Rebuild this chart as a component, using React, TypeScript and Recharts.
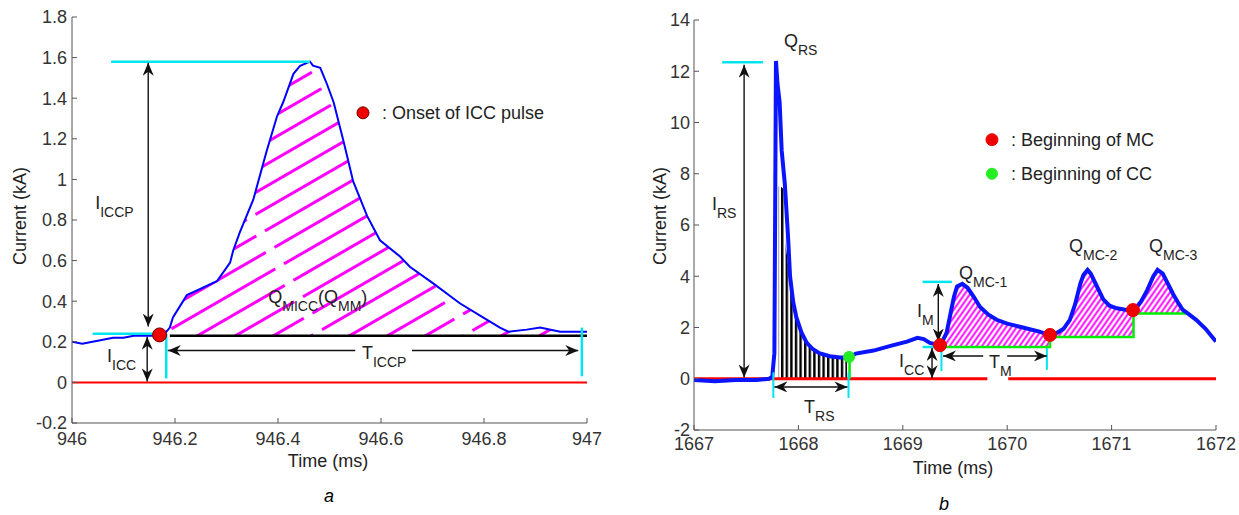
import React from "react";
import { Area, ComposedChart, Line, ReferenceDot, ReferenceLine, Scatter, XAxis, YAxis } from "recharts";

const FONT = '"Liberation Sans", Arial, Helvetica, sans-serif';
const TEXT = "#222";
const AXIS = "#555";
const CYAN = "#00e4f0";
const SUB_DY = 8;

// ---- panel a : ICC pulse ----
const aTicksX = [946, 946.2, 946.4, 946.6, 946.8, 947];
const aTickLabelsX = ["946", "946.2", "946.4", "946.6", "946.8", "947"];
const aTicksY = [-0.2, 0, 0.2, 0.4, 0.6, 0.8, 1, 1.2, 1.4, 1.6, 1.8];
const aTickLabelsY = ["-0.2", "0", "0.2", "0.4", "0.6", "0.8", "1", "1.2", "1.4", "1.6", "1.8"];

const aTime = [
  946.0, 946.02, 946.04, 946.06, 946.08, 946.1, 946.12, 946.14, 946.16, 946.18, 946.19, 946.196, 946.223,
  946.249, 946.282, 946.307, 946.313, 946.326, 946.352, 946.378, 946.398, 946.41, 946.43, 946.443, 946.462,
  946.468, 946.482, 946.495, 946.508, 946.527, 946.546, 946.573, 946.598, 946.637, 946.656, 946.7, 946.753,
  946.798, 946.831, 946.847, 946.883, 946.909, 946.948, 946.98, 947.0,
];
const aCurrent = [
  0.2, 0.19, 0.2, 0.21, 0.22, 0.22, 0.23, 0.23, 0.23, 0.24, 0.27, 0.32, 0.43,
  0.46, 0.5, 0.59, 0.65, 0.74, 0.9, 1.14, 1.31, 1.38, 1.52, 1.56, 1.58,
  1.56, 1.55, 1.47, 1.38, 1.19, 0.99, 0.82, 0.7, 0.62, 0.57, 0.49, 0.39,
  0.32, 0.27, 0.25, 0.26, 0.27, 0.25, 0.25, 0.25,
];
const aOnset = [{ t: 946.17, i: 0.234 }];
const aBase = 0.23;
const aPulseRange = [946.19, 946.985];

// ---- panel b : return stroke + M components ----
const bTicksX = [1667, 1668, 1669, 1670, 1671, 1672];
const bTickLabelsX = ["1667", "1668", "1669", "1670", "1671", "1672"];
const bTicksY = [-2, 0, 2, 4, 6, 8, 10, 12, 14];
const bTickLabelsY = ["-2", "0", "2", "4", "6", "8", "10", "12", "14"];

const bTime = [
  1667.0, 1667.2, 1667.4, 1667.6, 1667.72, 1667.75, 1667.77, 1667.785, 1667.8, 1667.82, 1667.84, 1667.87,
  1667.9, 1667.92, 1667.95, 1667.98, 1668.03, 1668.08, 1668.14, 1668.2, 1668.3, 1668.4, 1668.49, 1668.55,
  1668.72, 1668.9, 1669.04, 1669.14, 1669.2, 1669.26, 1669.36, 1669.42, 1669.45, 1669.49, 1669.52, 1669.57,
  1669.62, 1669.68, 1669.74, 1669.82, 1669.9, 1670.0, 1670.15, 1670.3, 1670.41, 1670.48, 1670.54, 1670.6,
  1670.65, 1670.7, 1670.73, 1670.77, 1670.8, 1670.86, 1670.92, 1670.98, 1671.05, 1671.12, 1671.21, 1671.28,
  1671.34, 1671.4, 1671.44, 1671.49, 1671.54, 1671.59, 1671.64, 1671.68, 1671.72, 1671.81, 1671.9, 1671.97,
  1672.0,
];
const bCurrent = [
  -0.05, -0.1, -0.05, -0.05, 0.0, 0.1, 1.0, 12.4, 11.5, 10.8, 8.9, 7.6,
  5.6, 4.0, 3.0, 2.4, 1.8, 1.4, 1.15, 1.0, 0.88, 0.83, 0.84, 0.98,
  1.1, 1.3, 1.45, 1.6, 1.55, 1.4, 1.3, 1.8, 2.4, 3.2, 3.6, 3.7,
  3.55, 3.2, 2.8, 2.5, 2.3, 2.15, 2.0, 1.85, 1.7, 1.8, 1.95, 2.3,
  2.9, 3.7, 4.05, 4.25, 4.1, 3.6, 3.1, 2.85, 2.75, 2.7, 2.65, 3.0,
  3.45, 4.0, 4.25, 4.1, 3.7, 3.3, 2.95, 2.7, 2.58, 2.3, 1.95, 1.6,
  1.45,
];
const rsTime = [1667.81, 1667.83, 1667.86, 1667.875, 1667.9, 1667.92, 1667.95, 1667.98, 1668.03, 1668.08, 1668.14, 1668.2, 1668.3, 1668.4, 1668.465];
const rsCurrent = [7.5, 7.5, 7.4, 5.3, 4.5, 3.8, 3.0, 2.4, 1.8, 1.4, 1.15, 1.0, 0.88, 0.83, 0.83];
const mcStarts = [{ t: 1669.356, i: 1.31 }, { t: 1670.41, i: 1.71 }, { t: 1671.205, i: 2.68 }];
const ccStarts = [{ t: 1668.485, i: 0.85 }];
const mcRanges = [[1669.356, 1670.41], [1670.41, 1671.21], [1671.21, 1671.72]];
const mcBases = [1.24, 1.63, 2.55];
const ccStepTime = [1669.356, 1670.41, 1670.41, 1671.21, 1671.21, 1671.72];
const ccStepCurrent = [1.24, 1.24, 1.63, 1.63, 2.55, 2.55];

const aData = aTime.map((t, k) => ({ t, i: aCurrent[k] }));
const aHatch = aData
  .filter((d) => d.t >= aPulseRange[0] && d.t <= aPulseRange[1])
  .map((d) => ({ t: d.t, band: [aBase, Math.max(aBase, d.i)] }));

const bData = bTime.map((t, k) => ({ t, i: bCurrent[k] }));
const rsData = rsTime.map((t, k) => ({ t, band: [0, rsCurrent[k]] }));
const mcHatch = mcRanges.map(([lo, hi], k) =>
  bData.filter((d) => d.t >= lo && d.t <= hi).map((d) => ({ t: d.t, band: [mcBases[k], Math.max(mcBases[k], d.i)] }))
);
const ccStep = ccStepTime.map((t, k) => ({ t, i: ccStepCurrent[k] }));

type Part = [string, string];

function SubText({ x, y, parts, anchor = "start" }: { x: number; y: number; parts: Part[]; anchor?: string }) {
  const kids: React.ReactNode[] = [];
  let low = false;
  parts.forEach(([m, s], k) => {
    if (m) {
      kids.push(<tspan key={"m" + k} dy={low ? -SUB_DY : 0} fontSize={18}>{m}</tspan>);
      low = false;
    }
    if (s) {
      kids.push(<tspan key={"s" + k} dy={low ? 0 : SUB_DY} fontSize={14}>{s}</tspan>);
      low = true;
    }
  });
  return (
    <text x={x} y={y} fill={TEXT} textAnchor={anchor} style={{ fontFamily: FONT }}>
      {kids}
    </text>
  );
}

const note = (parts: Part[]) => (p: any) => <SubText x={p.cx} y={p.cy} parts={parts} />;

const legendItem = (label: string, fill: string, r: number, outline?: string) => (p: any) => (
  <g>
    <circle cx={p.cx} cy={p.cy} r={r} fill={fill} stroke={outline || fill} strokeWidth={1} />
    <text x={p.cx + 19} y={p.cy + 6} fontSize={18} fill={TEXT} style={{ fontFamily: FONT }}>
      {label}
    </text>
  </g>
);

const arrow = (id: string, both: boolean) => (p: any) => (
  <line
    x1={p.x1}
    y1={p.y1}
    x2={p.x2}
    y2={p.y2}
    stroke="#111"
    strokeWidth={1.4}
    markerEnd={`url(#${id})`}
    markerStart={both ? `url(#${id})` : undefined}
  />
);

const dot = (fill: string, r: number, outline?: string) => (p: any) => (
  <circle cx={p.cx} cy={p.cy} r={r} fill={fill} stroke={outline || fill} strokeWidth={1} />
);

const fmt = (ticks: number[], labels: string[]) => (v: number) => {
  const k = ticks.findIndex((t) => Math.abs(t - v) < 1e-9);
  return k >= 0 ? labels[k] : String(v);
};

const tickStyle = { fill: "#333", fontSize: 18, fontFamily: FONT };

function ArrowDefs({ id }: { id: string }) {
  return (
    <marker id={id} viewBox="0 0 13 11" refX={13} refY={5.5} markerWidth={13} markerHeight={11} markerUnits="userSpaceOnUse" orient="auto-start-reverse">
      <path d="M0,0 L13,5.5 L0,11 L4,5.5 Z" fill="#111" />
    </marker>
  );
}

function PanelA() {
  const seg = (x1: number, y1: number, x2: number, y2: number) => [{ x: x1, y: y1 }, { x: x2, y: y2 }];
  return (
    <ComposedChart width={620} height={515} margin={{ top: 17, right: 33, bottom: 62, left: 0 }} style={{ fontFamily: FONT }}>
      <defs>
        <ArrowDefs id="arrA" />
        <pattern id="hatchA" patternUnits="userSpaceOnUse" width={130} height={19} patternTransform="rotate(-30)">
          <line x1={0} y1={9.5} x2={130} y2={9.5} stroke="#ff00ff" strokeWidth={3} strokeDasharray="104 10" />
        </pattern>
      </defs>
      <XAxis
        dataKey="t"
        type="number"
        domain={[946, 947]}
        ticks={aTicksX}
        interval={0}
        allowDataOverflow
        tickFormatter={fmt(aTicksX, aTickLabelsX)}
        tick={tickStyle}
        tickSize={-5}
        tickMargin={14}
        height={30}
        stroke={AXIS}
      />
      <XAxis xAxisId="top" orientation="top" type="number" domain={[946, 947]} ticks={aTicksX} tick={false} tickSize={-5} height={0} stroke={AXIS} />
      <YAxis
        type="number"
        domain={[-0.2, 1.8]}
        ticks={aTicksY}
        interval={0}
        allowDataOverflow
        tickFormatter={fmt(aTicksY, aTickLabelsY)}
        tick={tickStyle}
        tickSize={-5}
        tickMargin={10}
        width={72}
        stroke={AXIS}
      />
      <YAxis yAxisId="right" orientation="right" type="number" domain={[-0.2, 1.8]} ticks={aTicksY} tick={false} tickSize={-5} width={0} stroke={AXIS} />

      <ReferenceLine y={0} stroke="#ff0000" strokeWidth={2} />
      <Area data={aHatch} dataKey="band" type="linear" fill="url(#hatchA)" stroke="none" fillOpacity={1} isAnimationActive={false} />
      <ReferenceLine segment={seg(946.19, aBase, 947, aBase)} stroke="#000" strokeWidth={2.5} ifOverflow="visible" />
      <Line data={aData} dataKey="i" type="linear" dot={false} stroke="#0000ff" strokeWidth={2} isAnimationActive={false} />

      <ReferenceLine segment={seg(946.076, 1.58, 946.462, 1.58)} stroke={CYAN} strokeWidth={2.5} />
      <ReferenceLine segment={seg(946.04, 0.24, 946.17, 0.24)} stroke={CYAN} strokeWidth={2.5} />
      <ReferenceLine segment={seg(946.183, 0.24, 946.183, 0.02)} stroke={CYAN} strokeWidth={2.5} />
      <ReferenceLine segment={seg(946.99, 0.27, 946.99, 0.03)} stroke={CYAN} strokeWidth={2.5} />

      <ReferenceLine segment={seg(946.148, 0.275, 946.148, 1.575)} shape={arrow("arrA", true)} />
      <ReferenceLine segment={seg(946.146, 0.005, 946.146, 0.225)} shape={arrow("arrA", true)} />
      <ReferenceLine segment={seg(946.55, 0.157, 946.186, 0.157)} shape={arrow("arrA", false)} />
      <ReferenceLine segment={seg(946.66, 0.157, 946.983, 0.157)} shape={arrow("arrA", false)} />

      <Scatter data={aOnset} dataKey="i" shape={dot("#ee0000", 7, "#700000")} isAnimationActive={false} />

      <ReferenceDot x={946.045} y={0.855} shape={note([["I", "ICCP"]])} />
      <ReferenceDot x={946.381} y={0.392} shape={note([["Q", "MICC"], ["(Q", "MM"], [")", ""]])} />
      <ReferenceDot x={946.068} y={0.101} shape={note([["I", "ICC"]])} />
      <ReferenceDot x={946.563} y={0.116} shape={note([["T", "ICCP"]])} />
      <ReferenceDot x={946.565} y={1.328} shape={legendItem(": Onset of ICC pulse", "#ee0000", 6, "#700000")} />
    </ComposedChart>
  );
}

function PanelB() {
  const seg = (x1: number, y1: number, x2: number, y2: number) => [{ x: x1, y: y1 }, { x: x2, y: y2 }];
  return (
    <ComposedChart width={619} height={515} margin={{ top: 20, right: 23, bottom: 55, left: 0 }} style={{ fontFamily: FONT }}>
      <defs>
        <ArrowDefs id="arrB" />
        <pattern id="hatchB" patternUnits="userSpaceOnUse" width={10} height={4.4} patternTransform="rotate(-55)">
          <line x1={0} y1={2.2} x2={10} y2={2.2} stroke="#ff00ff" strokeWidth={1.9} />
        </pattern>
        <pattern id="stripesB" patternUnits="userSpaceOnUse" width={4.6} height={10}>
          <rect x={0} y={0} width={2.4} height={10} fill="#000" />
        </pattern>
      </defs>
      <XAxis
        dataKey="t"
        type="number"
        domain={[1667, 1672]}
        ticks={bTicksX}
        interval={0}
        allowDataOverflow
        tickFormatter={fmt(bTicksX, bTickLabelsX)}
        tick={tickStyle}
        tickSize={-5}
        tickMargin={12}
        height={30}
        stroke={AXIS}
      />
      <XAxis xAxisId="top" orientation="top" type="number" domain={[1667, 1672]} ticks={bTicksX} tick={false} tickSize={-5} height={0} stroke={AXIS} />
      <YAxis
        type="number"
        domain={[-2, 14]}
        ticks={bTicksY}
        interval={0}
        allowDataOverflow
        tickFormatter={fmt(bTicksY, bTickLabelsY)}
        tick={tickStyle}
        tickSize={-5}
        tickMargin={9}
        width={74}
        stroke={AXIS}
      />
      <YAxis yAxisId="right" orientation="right" type="number" domain={[-2, 14]} ticks={bTicksY} tick={false} tickSize={-5} width={0} stroke={AXIS} />

      <ReferenceLine segment={seg(1667, 0, 1669.81, 0)} stroke="#ff0000" strokeWidth={3} />
      <ReferenceLine segment={seg(1670.01, 0, 1672, 0)} stroke="#ff0000" strokeWidth={3} />

      <Area data={rsData} dataKey="band" type="linear" fill="url(#stripesB)" stroke="none" fillOpacity={1} isAnimationActive={false} />
      {mcHatch.map((d, k) => (
        <Area key={k} data={d} dataKey="band" type="linear" fill="url(#hatchB)" stroke="none" fillOpacity={1} isAnimationActive={false} />
      ))}
      <ReferenceLine segment={seg(1668.49, 0, 1668.49, 0.84)} stroke="#00ee00" strokeWidth={2.5} />
      <Line data={ccStep} dataKey="i" type="linear" dot={false} stroke="#00ee00" strokeWidth={2.5} isAnimationActive={false} />
      <Line data={bData} dataKey="i" type="linear" dot={false} stroke="#0a14ff" strokeWidth={4} isAnimationActive={false} />

      <ReferenceLine segment={seg(1667.27, 12.35, 1667.66, 12.35)} stroke={CYAN} strokeWidth={2.5} />
      <ReferenceLine segment={seg(1669.19, 3.78, 1669.47, 3.78)} stroke={CYAN} strokeWidth={2.5} />
      <ReferenceLine segment={seg(1669.19, 1.24, 1669.36, 1.24)} stroke={CYAN} strokeWidth={2.5} />
      <ReferenceLine segment={seg(1667.76, 0.25, 1667.76, -0.75)} stroke={CYAN} strokeWidth={2} />
      <ReferenceLine segment={seg(1668.48, 0.25, 1668.48, -0.75)} stroke={CYAN} strokeWidth={2} />
      <ReferenceLine segment={seg(1669.37, 1.2, 1669.37, 0.3)} stroke={CYAN} strokeWidth={2} />
      <ReferenceLine segment={seg(1670.38, 1.2, 1670.38, 0.35)} stroke={CYAN} strokeWidth={2} />

      <ReferenceLine segment={seg(1667.48, 0.05, 1667.48, 12.25)} shape={arrow("arrB", true)} />
      <ReferenceLine segment={seg(1669.34, 1.45, 1669.34, 3.7)} shape={arrow("arrB", true)} />
      <ReferenceLine segment={seg(1669.28, 0.02, 1669.28, 1.2)} shape={arrow("arrB", true)} />
      <ReferenceLine segment={seg(1667.77, -0.32, 1668.47, -0.32)} shape={arrow("arrB", true)} />
      <ReferenceLine segment={seg(1669.77, 0.89, 1669.385, 0.89)} shape={arrow("arrB", false)} />
      <ReferenceLine segment={seg(1670.0, 0.89, 1670.38, 0.89)} shape={arrow("arrB", false)} />

      <Scatter data={ccStarts} dataKey="i" shape={dot("#22ee22", 5.5)} isAnimationActive={false} />
      <Scatter data={mcStarts} dataKey="i" shape={dot("#ee0000", 6.5)} isAnimationActive={false} />

      <ReferenceDot x={1667.862} y={12.96} shape={note([["Q", "RS"]])} />
      <ReferenceDot x={1667.172} y={6.59} shape={note([["I", "RS"]])} />
      <ReferenceDot x={1669.136} y={2.41} shape={note([["I", "M"]])} />
      <ReferenceDot x={1668.964} y={0.46} shape={note([["I", "CC"]])} />
      <ReferenceDot x={1668.054} y={-1.34} shape={note([["T", "RS"]])} />
      <ReferenceDot x={1669.538} y={3.9} shape={note([["Q", "MC-1"]])} />
      <ReferenceDot x={1669.826} y={0.42} shape={note([["T", "M"]])} />
      <ReferenceDot x={1670.592} y={4.95} shape={note([["Q", "MC-2"]])} />
      <ReferenceDot x={1671.358} y={4.95} shape={note([["Q", "MC-3"]])} />
      <ReferenceDot x={1669.854} y={9.33} shape={legendItem(":  Beginning of MC", "#ee0000", 6)} />
      <ReferenceDot x={1669.854} y={8.0} shape={legendItem(":  Beginning of CC", "#22ee22", 5.5)} />
    </ComposedChart>
  );
}

const title: React.CSSProperties = { position: "absolute", fontSize: 18, color: TEXT, whiteSpace: "nowrap", lineHeight: "20px" };

export default function App() {
  return (
    <div style={{ position: "absolute", left: 0, top: 0, width: 1239, height: 515, background: "#fff", fontFamily: FONT, overflow: "hidden" }}>
      <div style={{ position: "absolute", left: 0, top: 0 }}>
        <PanelA />
      </div>
      <div style={{ position: "absolute", left: 620, top: 0 }}>
        <PanelB />
      </div>
      <div style={{ ...title, left: 20, top: 216, transform: "translate(-50%, -50%) rotate(-90deg)" }}>Current (kA)</div>
      <div style={{ ...title, left: 660, top: 216, transform: "translate(-50%, -50%) rotate(-90deg)" }}>Current (kA)</div>
      <div style={{ ...title, left: 328, top: 461, transform: "translate(-50%, -50%)" }}>Time (ms)</div>
      <div style={{ ...title, left: 953, top: 468, transform: "translate(-50%, -50%)" }}>Time (ms)</div>
      <div style={{ ...title, left: 329, top: 496, fontStyle: "italic", color: "#000", transform: "translate(-50%, -50%)" }}>a</div>
      <div style={{ ...title, left: 944, top: 504, fontStyle: "italic", color: "#000", transform: "translate(-50%, -50%)" }}>b</div>
    </div>
  );
}
